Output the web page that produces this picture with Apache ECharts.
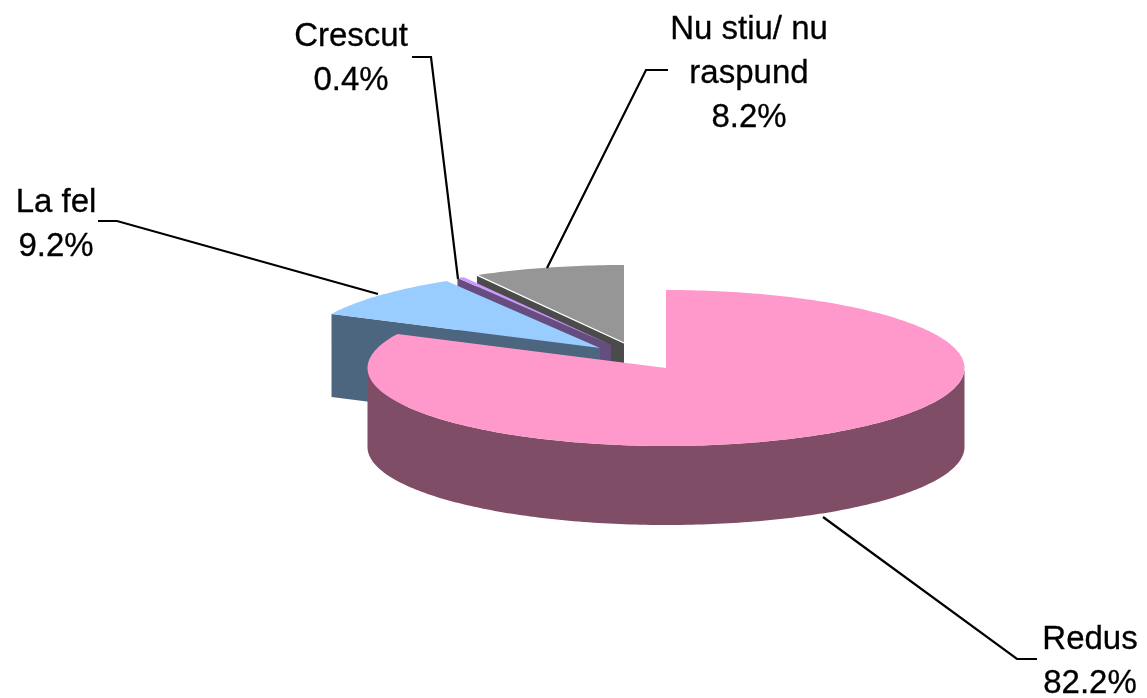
<!DOCTYPE html>
<html>
<head>
<meta charset="utf-8">
<style>html,body{margin:0;padding:0;background:#fff}#c{width:1147px;height:698px}</style>
<script src="https://cdn.jsdelivr.net/npm/echarts@6/dist/echarts.min.js"></script>
</head>
<body>
<div id="c"></div>
<script>
// Data
const categories = ['Redus', 'La fel', 'Crescut', 'Nu stiu/ nu\nraspund'];
const values = [82.2, 9.2, 0.4, 8.2];
const valueLabels = ['82.2%', '9.2%', '0.4%', '8.2%'];

// Styles and geometry of the drawing
const topColors = ['#FF99CC', '#99CCFF', '#CC99FF', '#969696'];
const sideColors = ['#804D66', '#4D6680', '#664D80', '#4B4B4B'];
const apexX = [666, 600, 611, 624];
const apexY = [368, 348, 345, 343];
const depths = [79, 83, 79, 79];
const rimHighlight = [false, false, false, true];
const RX = 298.5, RY = 78;
const labelCenterX = [1090, 56, 351, 749];
const labelTopY = [618, 181, 15, 8];
const leaders = [
  [[1037, 659], [1017, 659], [823, 517]],
  [[98, 221], [117, 221], [378, 294]],
  [[412, 57], [431, 57], [458, 279]],
  [[668, 70], [646, 70], [547, 268]]
];
const FONT = '"Liberation Sans", Arial, sans-serif';
const FONT_SIZE = 33;

const total = values.reduce((a, b) => a + b, 0);
function sliceAngles(i) {
  let before = 0;
  for (let k = 0; k < i; k++) before += values[k];
  return [before / total * 360, (before + values[i]) / total * 360];
}
function rim(i, deg, dy) {
  const t = deg * Math.PI / 180;
  return [apexX[i] + RX * Math.sin(t), apexY[i] - RY * Math.cos(t) + (dy || 0)];
}
function arc(i, from, to, dy) {
  const pts = [];
  const n = Math.max(2, Math.ceil(Math.abs(to - from)));
  for (let k = 0; k <= n; k++) pts.push(rim(i, from + (to - from) * k / n, dy));
  return pts;
}

function renderSlice(params, api) {
  const i = params.dataIndex;
  const [a0, a1] = sliceAngles(i);
  const z = 10 * (values.length - i);
  const apex = [apexX[i], apexY[i]];
  const d = depths[i];
  const children = [];
  // outer wall, only the part that faces the viewer
  const s0 = Math.max(a0, 90), s1 = Math.min(a1, 270);
  if (s1 > s0) {
    children.push({
      type: 'polygon', z2: z,
      shape: { points: arc(i, s0, s1, 0).concat(arc(i, s1, s0, d)) },
      style: { fill: sideColors[i] }
    });
  }
  // cut wall at the start of a slice lying in the back half
  if (a0 > 180) {
    const r = rim(i, a0);
    children.push({
      type: 'polygon', z2: z + 1,
      shape: { points: [apex, r, [r[0], r[1] + d], [apex[0], apex[1] + d]] },
      style: { fill: sideColors[i] }
    });
  }
  // top face
  children.push({
    type: 'polygon', z2: z + 2,
    shape: { points: [apex].concat(arc(i, a0, a1, 0)) },
    style: { fill: topColors[i] }
  });
  if (rimHighlight[i]) {
    children.push({
      type: 'polyline', z2: z + 3,
      shape: { points: [apex, rim(i, a0)] },
      style: { fill: null, stroke: '#ffffff', lineWidth: 1.3 }
    });
  }
  // leader line
  children.push({
    type: 'polyline', z2: 100,
    shape: { points: leaders[i] },
    style: { fill: null, stroke: '#000000', lineWidth: 2.2 }
  });
  // label
  children.push({
    type: 'text', z2: 101,
    style: {
      text: categories[i] + '\n' + valueLabels[i],
      x: labelCenterX[i], y: labelTopY[i],
      fill: '#000000', font: FONT_SIZE + 'px ' + FONT, fontSize: FONT_SIZE, fontFamily: FONT,
      align: 'center', verticalAlign: 'top', lineHeight: 44,
      stroke: '#000000', lineWidth: 0.3
    }
  });
  return { type: 'group', children };
}

const chart = echarts.init(document.getElementById('c'), null, { renderer: 'canvas' });
chart.setOption({
  animation: false,
  backgroundColor: '#ffffff',
  series: [{
    type: 'custom',
    coordinateSystem: 'none',
    renderItem: renderSlice,
    data: values.map((v, i) => ({ name: categories[i], value: [v] }))
  }]
});
</script>
</body>
</html>
